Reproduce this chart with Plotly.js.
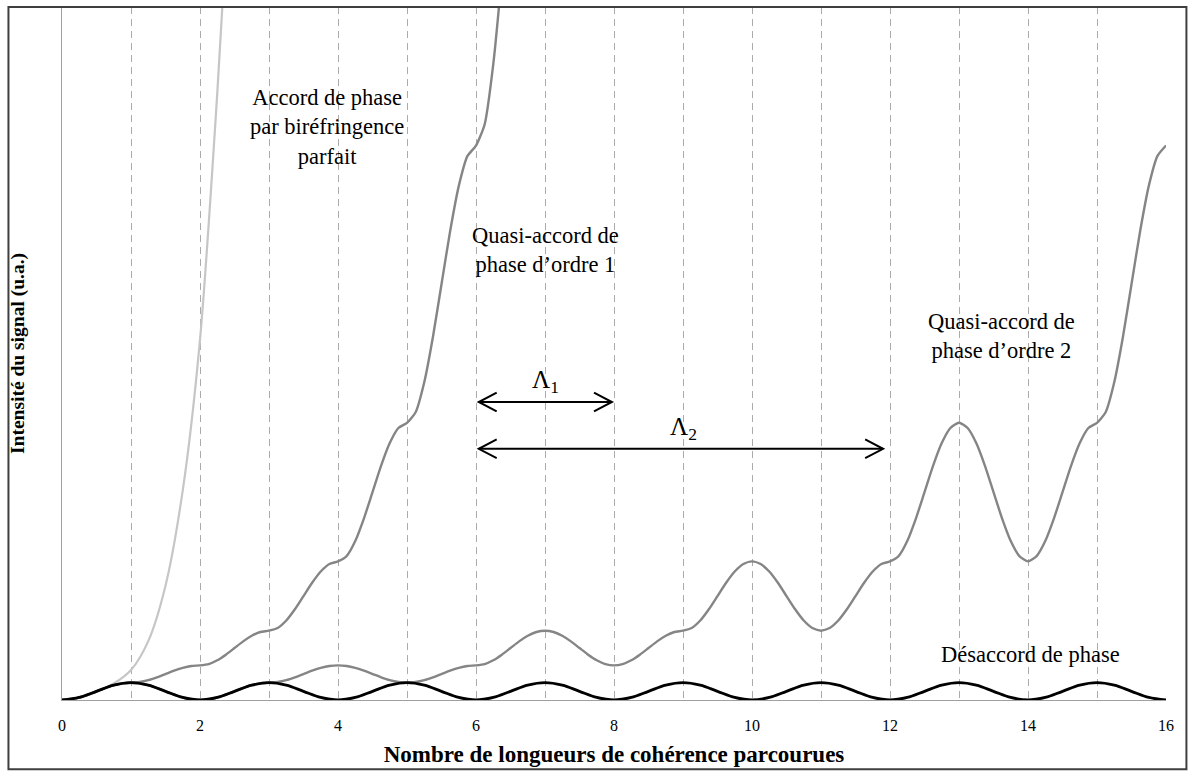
<!DOCTYPE html>
<html>
<head>
<meta charset="utf-8">
<script src="https://cdn.plot.ly/plotly-3.0.1.min.js"></script>
<style>html,body{margin:0;padding:0;background:#fff;}#chart{width:1191px;height:776px;}</style>
</head>
<body>
<div id="chart"></div>
<script>
// ---- data (intensity in units of the phase-mismatch maximum) ----
const xTicks = [0, 2, 4, 6, 8, 10, 12, 14, 16];

// Désaccord de phase, sampled every 0.25
const xMismatch = [];
for (let i = 0; i <= 64; i++) xMismatch.push(i * 0.25);
const mismatch = [
  0,.146,.5,.854,1,.854,.5,.146,
  0,.146,.5,.854,1,.854,.5,.146,
  0,.146,.5,.854,1,.854,.5,.146,
  0,.146,.5,.854,1,.854,.5,.146,
  0,.146,.5,.854,1,.854,.5,.146,
  0,.146,.5,.854,1,.854,.5,.146,
  0,.146,.5,.854,1,.854,.5,.146,
  0,.146,.5,.854,1,.854,.5,.146,
  0
];

// Accord de phase parfait, sampled every 0.25
const xPerfect = [0, 0.25, 0.5, 0.75, 1, 1.25, 1.5, 1.75, 2, 2.25, 2.5];
const perfect  = [0, 0.13, 0.48, 0.95, 1.73, 3.4, 6.6, 12.1, 20.8, 35, 52];

// Quasi-accord de phase d'ordre 1, sampled every 0.125
const xQpm1 = [];
for (let i = 0; i <= 52; i++) xQpm1.push(i * 0.125);
const qpm1 = [
  0,.038,.146,.309,.5,.691,.854,.962,
  1,1.038,1.146,1.309,1.5,1.691,1.854,1.962,
  2,2.076,2.293,2.617,3,3.383,3.707,3.924,
  4,4.152,4.586,5.235,6,6.765,7.414,7.848,
  8,8.305,9.171,10.47,12,13.53,14.83,15.7,
  16,16.61,18.34,20.94,24,27.06,29.66,31.39,
  32,33.22,36.69,41.88,48
];

// Quasi-accord de phase d'ordre 2, sampled every 0.125
const xQpm2 = [];
for (let i = 0; i <= 128; i++) xQpm2.push(i * 0.125);
const qpm2 = [
  0,.038,.146,.309,.5,.691,.854,.962,
  1,.962,.854,.691,.5,.309,.146,.038,
  0,.038,.146,.309,.5,.691,.854,.962,
  1,1.038,1.146,1.309,1.5,1.691,1.854,1.962,
  2,1.962,1.854,1.691,1.5,1.309,1.146,1.038,
  1,1.038,1.146,1.309,1.5,1.691,1.854,1.962,
  2,2.076,2.293,2.617,3,3.383,3.707,3.924,
  4,3.924,3.707,3.383,3,2.617,2.293,2.076,
  2,2.076,2.293,2.617,3,3.383,3.707,3.924,
  4,4.152,4.586,5.235,6,6.765,7.414,7.848,
  8,7.848,7.414,6.765,6,5.235,4.586,4.152,
  4,4.152,4.586,5.235,6,6.765,7.414,7.848,
  8,8.305,9.171,10.47,12,13.53,14.83,15.7,
  16,15.7,14.83,13.53,12,10.47,9.171,8.305,
  8,8.305,9.171,10.47,12,13.53,14.83,15.7,
  16,16.61,18.34,20.94,24,27.06,29.66,31.39,
  32
];

// Periods Λ1, Λ2 (arrows)
const periodLabels = ['Λ<sub>1</sub>', 'Λ<sub>2</sub>'];
const periodStart  = [6.04, 6.04];
const periodEnd    = [7.97, 11.9];
const periodLevel  = [17.2, 14.5];
const periodLabelX = [7.0, 9.0];
const periodLabelY = [18.4, 15.7];

// Curve labels
const curveLabels = [
  'Accord de phase<br>par biréfringence<br>parfait',
  'Quasi-accord de<br>phase d’ordre 1',
  'Quasi-accord de<br>phase d’ordre 2',
  'Désaccord de phase'
];
const curveLabelX = [3.84, 7.0, 13.62, 14.03];
const curveLabelY = [33.1, 26.0, 21.0, 2.6];

// ---- figure ----
const SERIF = 'Liberation Serif, Times New Roman, serif';

const traces = [
  {x: xPerfect, y: perfect, mode: 'lines', line: {color: '#c6c6c6', width: 2.2, shape: 'spline', smoothing: 0.8}, hoverinfo: 'skip'},
  {x: xQpm1, y: qpm1, mode: 'lines', line: {color: '#858585', width: 2.4, shape: 'spline', smoothing: 0.6}, hoverinfo: 'skip'},
  {x: xQpm2, y: qpm2, mode: 'lines', line: {color: '#858585', width: 2.4, shape: 'spline', smoothing: 0.6}, hoverinfo: 'skip'},
  {x: xMismatch, y: mismatch, mode: 'lines', line: {color: '#000000', width: 2.8, shape: 'spline', smoothing: 1}, hoverinfo: 'skip'}
];

const shapes = [
  // outer frame
  {type: 'rect', xref: 'paper', yref: 'paper', x0: -0.0485, x1: 1.0185, y0: -0.1, y1: 1.0,
   line: {color: '#3f3f3f', width: 2}, fillcolor: 'rgba(0,0,0,0)', layer: 'above'}
];
const annotations = [];
const ax = 0.26, ay = 0.54;
for (let i = 0; i < periodLabels.length; i++) {
  const a = periodStart[i], b = periodEnd[i], y = periodLevel[i];
  shapes.push({type: 'line', xref: 'x', yref: 'y', x0: a, x1: b, y0: y, y1: y, line: {color: '#000', width: 2}});
  shapes.push({type: 'path', xref: 'x', yref: 'y',
    path: `M ${a + ax} ${y + ay} L ${a} ${y} L ${a + ax} ${y - ay}`, line: {color: '#000', width: 2}});
  shapes.push({type: 'path', xref: 'x', yref: 'y',
    path: `M ${b - ax} ${y + ay} L ${b} ${y} L ${b - ax} ${y - ay}`, line: {color: '#000', width: 2}});
  annotations.push({x: periodLabelX[i], y: periodLabelY[i], xref: 'x', yref: 'y', text: periodLabels[i],
    showarrow: false, font: {family: SERIF, size: 25, color: '#000'}});
}
for (let i = 0; i < curveLabels.length; i++) {
  annotations.push({x: curveLabelX[i], y: curveLabelY[i], xref: 'x', yref: 'y', text: curveLabels[i],
    showarrow: false, align: 'center', font: {family: SERIF, size: 22.5, color: '#000'}});
}

const gridStyle = {gridcolor: '#ababab', gridwidth: 1, griddash: '7px,5px'};

const layout = {
  width: 1191, height: 776,
  margin: {l: 62, r: 25, t: 7, b: 76, pad: 0},
  paper_bgcolor: '#ffffff', plot_bgcolor: '#ffffff',
  showlegend: false,
  font: {family: SERIF, color: '#000'},
  xaxis: {
    range: [0, 16], tickvals: xTicks, ticktext: xTicks.map(String),
    showgrid: true, ...gridStyle,
    minor: {dtick: 1, tick0: 0, showgrid: true, ...gridStyle},
    zeroline: false, showline: true, linecolor: '#a0a0a0', linewidth: 1,
    ticks: '', ticklabelstandoff: 11,
    tickfont: {family: SERIF, size: 16, color: '#000'},
    title: {text: 'Nombre de longueurs de cohérence parcourues', standoff: 12,
            font: {family: SERIF, size: 23, color: '#000', weight: 'bold'}},
    fixedrange: true
  },
  yaxis: {
    range: [0, 40], showgrid: false, zeroline: false, showticklabels: false,
    showline: true, linecolor: '#a0a0a0', linewidth: 1, ticks: '',
    title: {text: 'Intensité du signal (u.a.)', standoff: 31,
            font: {family: SERIF, size: 19.5, color: '#000', weight: 'bold'}},
    fixedrange: true
  },
  shapes: shapes,
  annotations: annotations
};

Plotly.newPlot('chart', traces, layout, {displayModeBar: false, staticPlot: true});
</script>
</body>
</html>
